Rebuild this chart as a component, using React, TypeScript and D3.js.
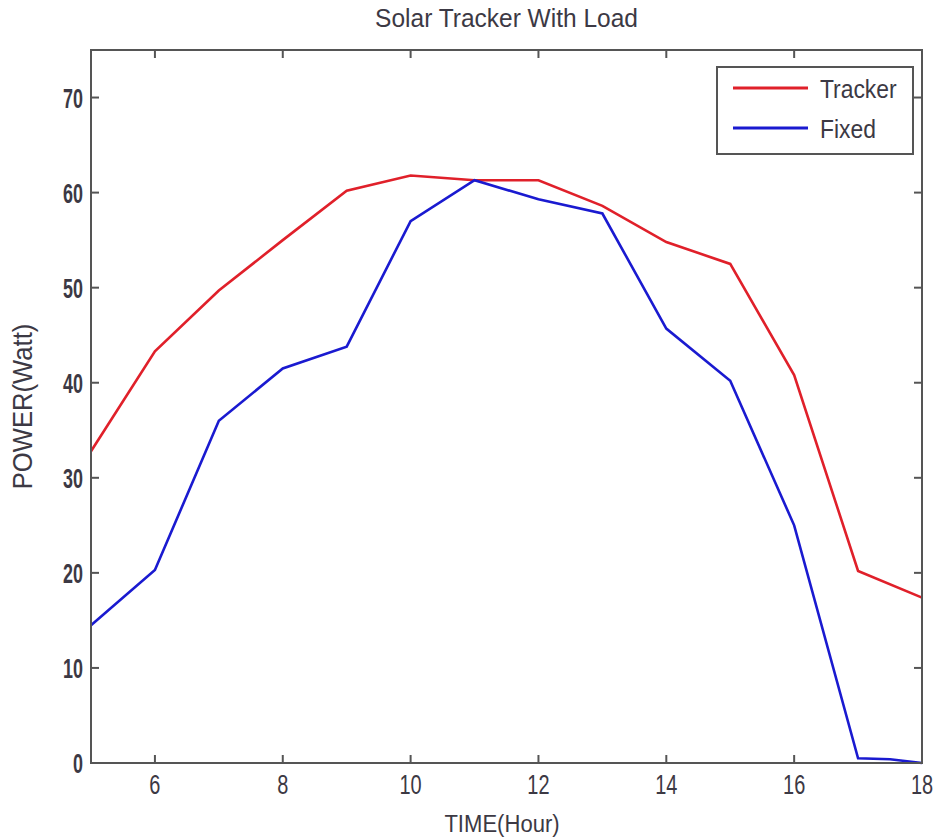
import React, { useRef, useEffect } from "react";
import * as d3 from "d3";

const hours = [5, 6, 7, 8, 9, 10, 11, 12, 13, 14, 15, 16, 17, 18];
const trackerPower = [32.8, 43.3, 49.7, 55, 60.2, 61.8, 61.3, 61.3, 58.6, 54.8, 52.5, 40.8, 20.2, 17.4];
const fixedHours = [5, 6, 7, 8, 9, 10, 11, 12, 13, 14, 15, 16, 17, 17.5, 18];
const fixedPower = [14.5, 20.3, 36, 41.5, 43.8, 57, 61.3, 59.3, 57.8, 45.7, 40.2, 25, 0.5, 0.4, 0];
const xTicks = [6, 8, 10, 12, 14, 16, 18];
const yTicks = [0, 10, 20, 30, 40, 50, 60, 70];
const seriesNames = ["Tracker", "Fixed"];
const seriesColors = ["#e0202a", "#1a1ad0"];

export default function App() {
  const width = 940;
  const height = 839;
  const margin = { top: 50, right: 18, bottom: 76, left: 91 };
  const svgRef = useRef(null);

  const x = d3.scaleLinear().domain([5, 18]).range([margin.left, width - margin.right]);
  const y = d3.scaleLinear().domain([0, 75]).range([height - margin.bottom, margin.top]);

  useEffect(() => {
    const svg = d3.select(svgRef.current);
    svg.selectAll("*").remove();
    const axisColor = "#555";
    const textColor = "#3c3944";
    const font = "'Liberation Sans', Arial, sans-serif";

    // squeezed text, the original uses a narrow face
    const narrowText = (px, py, str, size, sx, anchor, weight = "normal") =>
      svg
        .append("text")
        .attr("transform", `translate(${px},${py}) scale(${sx},1)`)
        .attr("text-anchor", anchor)
        .style("font-family", font)
        .style("font-size", `${size}px`)
        .style("font-weight", weight)
        .style("fill", textColor)
        .text(str);

    svg
      .append("rect")
      .attr("x", margin.left)
      .attr("y", margin.top)
      .attr("width", width - margin.left - margin.right)
      .attr("height", height - margin.top - margin.bottom)
      .attr("fill", "white");

    const tickLen = 8;
    xTicks.forEach((t) => {
      svg.append("line").attr("x1", x(t)).attr("x2", x(t)).attr("y1", y(0)).attr("y2", y(0) - tickLen).attr("stroke", axisColor).attr("stroke-width", 2);
      svg.append("line").attr("x1", x(t)).attr("x2", x(t)).attr("y1", y(75)).attr("y2", y(75) + tickLen).attr("stroke", axisColor).attr("stroke-width", 2);
      narrowText(x(t), y(0) + 31, t, 27, 0.74, "middle");
    });
    yTicks.forEach((t) => {
      svg.append("line").attr("x1", x(5)).attr("x2", x(5) + tickLen).attr("y1", y(t)).attr("y2", y(t)).attr("stroke", axisColor).attr("stroke-width", 2);
      svg.append("line").attr("x1", x(18)).attr("x2", x(18) - tickLen).attr("y1", y(t)).attr("y2", y(t)).attr("stroke", axisColor).attr("stroke-width", 2);
      narrowText(x(5) - 8, y(t) + 10, t, 28, 0.64, "end", "bold");
    });

    const line = d3
      .line<[number, number]>()
      .x((d) => x(d[0]))
      .y((d) => y(d[1]));

    svg
      .append("path")
      .datum(hours.map((h, i) => [h, trackerPower[i]] as [number, number]))
      .attr("d", line)
      .attr("fill", "none")
      .attr("stroke", seriesColors[0])
      .attr("stroke-width", 2.6);

    svg
      .append("path")
      .datum(fixedHours.map((h, i) => [h, fixedPower[i]] as [number, number]))
      .attr("d", line)
      .attr("fill", "none")
      .attr("stroke", seriesColors[1])
      .attr("stroke-width", 2.6);

    // frame on top
    svg
      .append("rect")
      .attr("x", margin.left)
      .attr("y", margin.top)
      .attr("width", width - margin.left - margin.right)
      .attr("height", height - margin.top - margin.bottom)
      .attr("fill", "none")
      .attr("stroke", axisColor)
      .attr("stroke-width", 2);

    // legend
    const lg = svg.append("g").attr("transform", "translate(717,67)");
    lg.append("rect").attr("width", 196).attr("height", 87).attr("fill", "white").attr("stroke", axisColor).attr("stroke-width", 2);
    seriesNames.forEach((name, i) => {
      const ly = 21 + i * 40;
      lg.append("line").attr("x1", 16).attr("x2", 91).attr("y1", ly).attr("y2", ly).attr("stroke", seriesColors[i]).attr("stroke-width", 3);
      lg.append("text")
        .attr("transform", `translate(103,${ly + 10}) scale(0.88,1)`)
        .style("font-family", font)
        .style("font-size", "26px")
        .style("fill", textColor)
        .text(name);
    });

    narrowText((margin.left + width - margin.right) / 2, 27, "Solar Tracker With Load", 25, 0.98, "middle");
    narrowText(502, 832, "TIME(Hour)", 24, 0.92, "middle");
    svg
      .append("text")
      .attr("transform", `translate(32, ${y(37.5)}) rotate(-90) scale(0.95,1)`)
      .attr("text-anchor", "middle")
      .style("font-family", font)
      .style("font-size", "27px")
      .style("fill", textColor)
      .text("POWER(Watt)");
  }, []);

  return (
    <div style={{ position: "absolute", left: 0, top: 0 }}>
      <svg ref={svgRef} width={width} height={height} style={{ display: "block", background: "white" }} />
    </div>
  );
}
